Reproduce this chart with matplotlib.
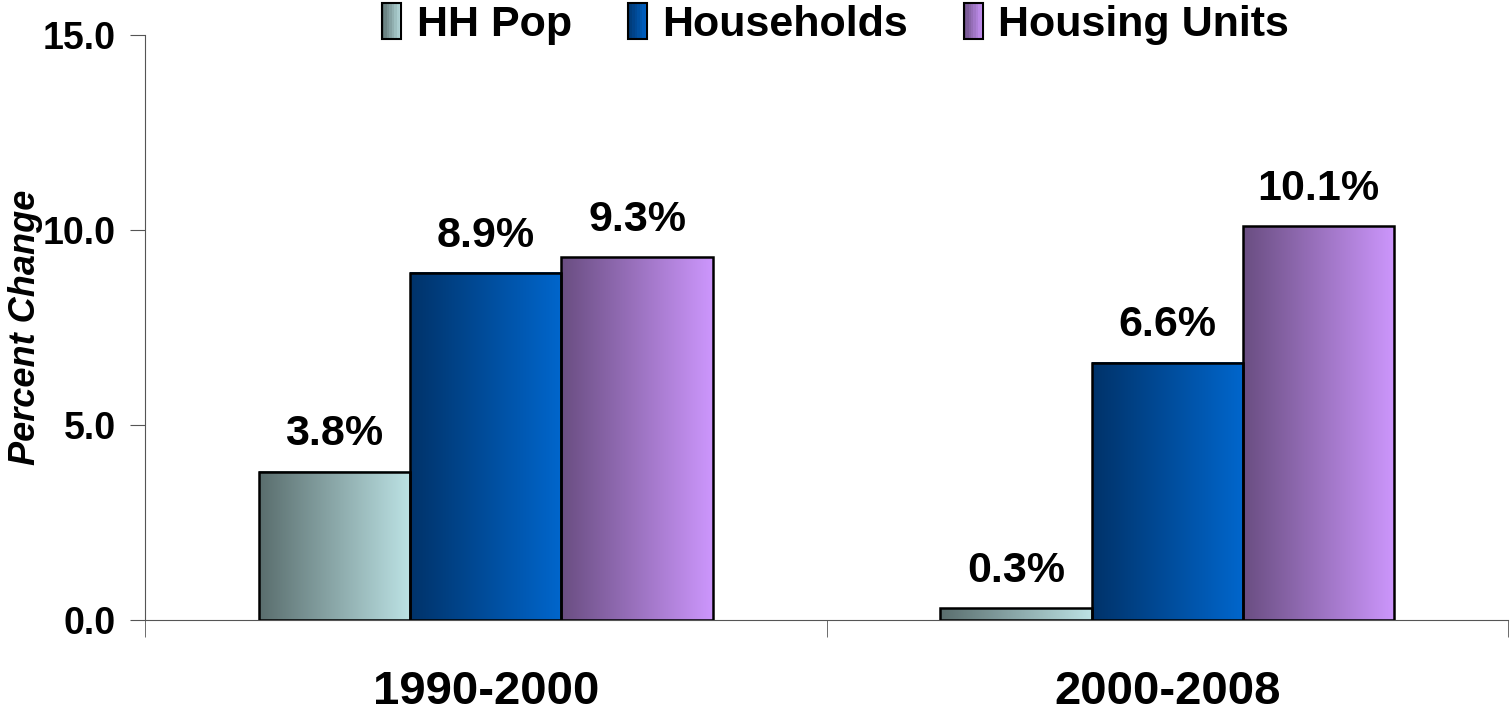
import numpy as np
import matplotlib
matplotlib.use('Agg')
import matplotlib.pyplot as plt
from matplotlib.patches import Rectangle
from matplotlib.legend_handler import HandlerBase
from matplotlib.colors import to_rgb

plt.rcParams['font.family'] = ['Liberation Sans', 'DejaVu Sans']

periods = ['1990-2000', '2000-2008']
series = ['HH Pop', 'Households', 'Housing Units']
hh_pop = [3.8, 0.3]
households = [8.9, 6.6]
housing_units = [9.3, 10.1]
values = [hh_pop, households, housing_units]

# left (dark) -> right (light) gradient for each series
grad_colors = [('#5a6e6e', '#bce2e4'),
               ('#00336a', '#0066cc'),
               ('#6a4e82', '#cc96fc')]


def gradient_img(c0, c1, n=64):
    a = np.array(to_rgb(c0))
    b = np.array(to_rgb(c1))
    t = np.linspace(0, 1, n)[:, None]
    return (a + (b - a) * t)[None, :, :]


class GradientHandler(HandlerBase):
    def __init__(self, c0, c1):
        super().__init__()
        self.c0, self.c1 = c0, c1

    def create_artists(self, legend, orig_handle, xdescent, ydescent,
                       width, height, fontsize, trans):
        arts = []
        n = 8
        a = np.array(to_rgb(self.c0))
        b = np.array(to_rgb(self.c1))
        for k in range(n):
            col = a + (b - a) * (k + 0.5) / n
            r = Rectangle((-xdescent + width * k / n, -ydescent), width / n, height,
                          facecolor=col, edgecolor='none', transform=trans)
            arts.append(r)
        arts.append(Rectangle((-xdescent, -ydescent), width, height,
                              facecolor='none', edgecolor='black', lw=1.5,
                              transform=trans))
        return arts


fig = plt.figure(figsize=(15.11, 7.17), dpi=100)
ax = fig.add_axes([0.096, 0.1353, 0.902, 0.8159])

x = np.arange(len(periods))
w = 0.222
for i, vals in enumerate(values):
    pos = x + (i - 1) * w
    bars = ax.bar(pos, vals, w, facecolor='none', edgecolor='black', lw=1.8, zorder=3)
    for b, v in zip(bars, vals):
        x0 = b.get_x()
        ax.imshow(gradient_img(*grad_colors[i]), extent=[x0, x0 + w, 0, v],
                  aspect='auto', zorder=2, interpolation='bicubic')
        ax.annotate(f'{v:.1f}%', (x0 + w / 2, v), xytext=(0, 19),
                    textcoords='offset points', ha='center', va='baseline',
                    fontsize=31, fontweight='bold')

ax.set_xlim(-0.5, 1.5)
ax.set_ylim(0, 15)
ax.set_yticks([0, 5, 10, 15])
ax.set_yticklabels([f'{t:.1f}' for t in [0, 5, 10, 15]], fontsize=27, fontweight='bold')
ax.set_xticks(x)
ax.set_xticklabels(periods, fontsize=34, fontweight='bold')
ax.set_xticks([-0.5, 0.5, 1.5], minor=True)
ax.tick_params(axis='x', which='major', length=0, pad=36)
ax.tick_params(axis='x', which='minor', length=12, direction='out', color='#555555')
ax.tick_params(axis='y', length=11, direction='out', color='#555555', pad=10)
ax.set_ylabel('Percent Change', fontsize=26, fontweight='bold', fontstyle='italic')
ax.yaxis.set_label_coords(-0.075, 0.5)

for s in ['top', 'right']:
    ax.spines[s].set_visible(False)
ax.spines['left'].set_color('#555555')
ax.spines['bottom'].set_color('#555555')

handles = [Rectangle((0, 0), 1, 1) for _ in series]
hmap = {h: GradientHandler(*c) for h, c in zip(handles, grad_colors)}
fig.legend(handles, series, loc='upper center', bbox_to_anchor=(0.553, 1.05),
           ncol=3, frameon=False, handler_map=hmap,
           prop={'size': 31, 'weight': 'bold'},
           handlelength=0.45, handleheight=0.9, handletextpad=0.35, columnspacing=1.3)

fig.savefig('out.png', dpi=100)
